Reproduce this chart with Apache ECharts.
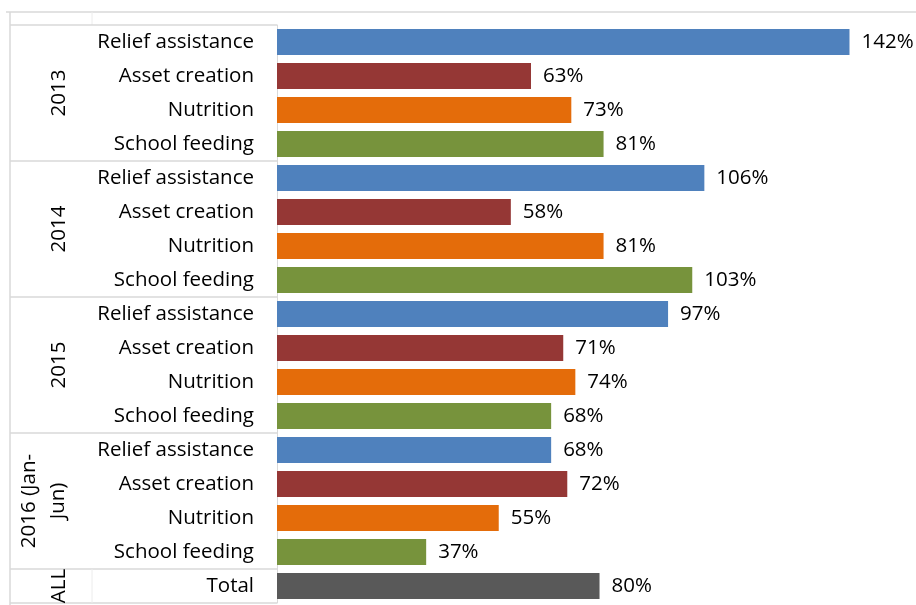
<!DOCTYPE html>
<html>
<head>
<meta charset="utf-8">
<script src="https://cdn.jsdelivr.net/npm/echarts@6/dist/echarts.min.js"></script>
<style>
html,body{margin:0;padding:0;background:#fff;}
#chart{width:916px;height:605px;}
</style>
</head>
<body>
<div id="chart"></div>
<script>
// ---- data ----
const groups = ['2013', '2014', '2015', '2016 (Jan-\nJun)', 'ALL'];
const groupSizes = [4, 4, 4, 4, 1];
const categories = [
  'Relief assistance', 'Asset creation', 'Nutrition', 'School feeding',
  'Relief assistance', 'Asset creation', 'Nutrition', 'School feeding',
  'Relief assistance', 'Asset creation', 'Nutrition', 'School feeding',
  'Relief assistance', 'Asset creation', 'Nutrition', 'School feeding',
  'Total'
];
const values = [142, 63, 73, 81, 106, 58, 81, 103, 97, 71, 74, 68, 68, 72, 55, 37, 80];
const activityColors = {
  'Relief assistance': '#4F81BD',
  'Asset creation': '#953735',
  'Nutrition': '#E46C0A',
  'School feeding': '#77933C',
  'Total': '#595959'
};

const FONT = '"Open Sans"';
const FS = 20.5;
const chart = echarts.init(document.getElementById('chart'));
const GRID = {left: 277, top: 25, width: 637, height: 578};

chart.setOption({
  animation: false,
  grid: {left: GRID.left, top: GRID.top, width: GRID.width, height: GRID.height, containLabel: false},
  xAxis: {type: 'value', min: 0, max: 158, show: false},
  yAxis: {
    type: 'category', inverse: true, data: categories,
    axisLine: {show: true, lineStyle: {color: '#d9d9d9', width: 1}},
    axisTick: {show: false},
    axisLabel: {color: '#000', fontSize: FS, fontFamily: FONT, margin: 23, padding: [3, 0, 0, 0]}
  },
  series: [{
    type: 'bar',
    barCategoryGap: '23%',
    data: values.map((v, i) => ({value: v, itemStyle: {color: activityColors[categories[i]]}})),
    label: {show: true, position: 'right', distance: 12, formatter: '{c}%', color: '#000', fontSize: FS, fontFamily: FONT, padding: [3, 0, 0, 0]}
  }]
});

// ---- multi-level axis decorations (positions via the axis scale) ----
const lineColor = '#d9d9d9';
const xLeft = 10, xAxisPos = GRID.left;
const elements = [];
function yAtBoundary(k) {
  const c0 = chart.convertToPixel({yAxisIndex: 0}, 0);
  const c1 = chart.convertToPixel({yAxisIndex: 0}, 1);
  const step = c1 - c0;
  return c0 - step / 2 + k * step;
}
elements.push({type: 'line', shape: {x1: 6, y1: 12, x2: 916, y2: 12}, style: {stroke: lineColor, lineWidth: 1.5}});
elements.push({type: 'line', shape: {x1: xLeft, y1: 12, x2: xLeft, y2: 605}, style: {stroke: lineColor, lineWidth: 1.5}});
elements.push({type: 'line', shape: {x1: 92, y1: 12, x2: 92, y2: yAtBoundary(0)}, style: {stroke: '#ececec', lineWidth: 1}});
let k = 0;
elements.push({type: 'line', shape: {x1: xLeft, y1: yAtBoundary(0), x2: xAxisPos, y2: yAtBoundary(0)}, style: {stroke: lineColor, lineWidth: 1.5}});
groups.forEach((g, gi) => {
  const yStart = yAtBoundary(k);
  k += groupSizes[gi];
  const yEnd = yAtBoundary(k);
  const nLines = g.split('\n').length;
  elements.push({type: 'line', shape: {x1: xLeft, y1: yEnd, x2: xAxisPos, y2: yEnd}, style: {stroke: lineColor, lineWidth: 1.5}});
  elements.push({
    type: 'text', x: 59 - (nLines - 1) * 15, y: (yStart + yEnd) / 2, rotation: Math.PI / 2,
    style: {text: g, fontSize: FS, fontFamily: FONT, fill: '#000', align: 'center', verticalAlign: 'middle', lineHeight: 29}
  });
  if (groupSizes[gi] === 1) {
    elements.push({type: 'line', shape: {x1: 92, y1: yStart, x2: 92, y2: yEnd}, style: {stroke: '#ececec', lineWidth: 1}});
  }
});
chart.setOption({graphic: {elements: elements}});
</script>
</body>
</html>
